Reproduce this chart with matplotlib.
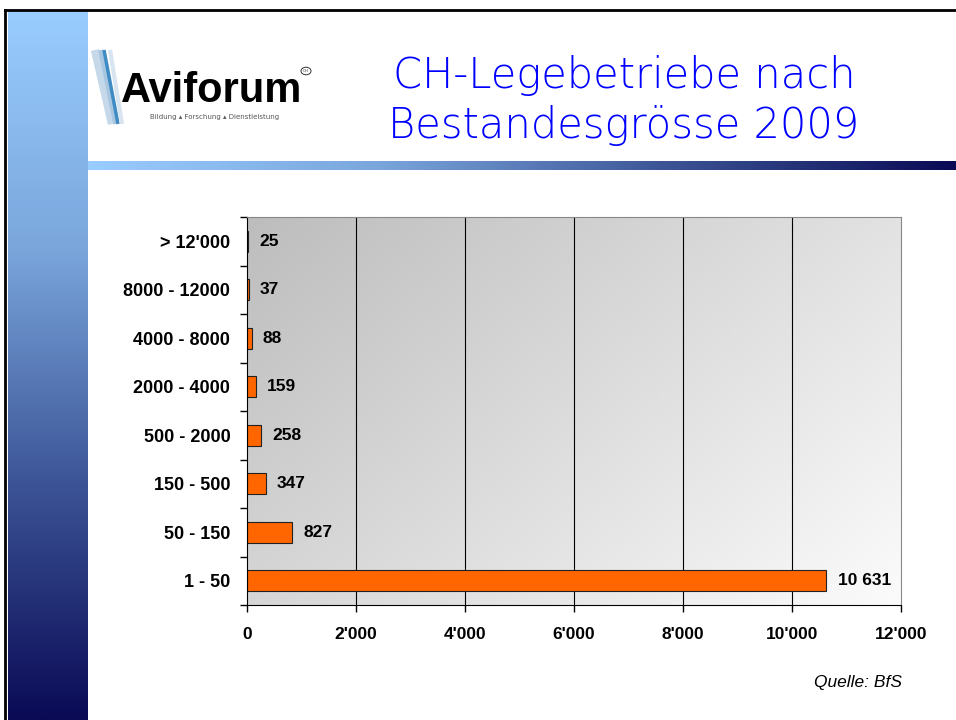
import numpy as np
import matplotlib.pyplot as plt
from matplotlib.colors import LinearSegmentedColormap
from matplotlib.patches import Circle

categories = ['1 - 50', '50 - 150', '150 - 500', '500 - 2000', '2000 - 4000',
              '4000 - 8000', '8000 - 12000', "> 12'000"]
betriebe = [10631, 827, 347, 258, 159, 88, 37, 25]
value_labels = ['10 631', '827', '347', '258', '159', '88', '37', '25']
xticks = [0, 2000, 4000, 6000, 8000, 10000, 12000]
xtick_labels = ['0', "2'000", "4'000", "6'000", "8'000", "10'000", "12'000"]

plt.rcParams['font.family'] = ['Liberation Sans', 'DejaVu Sans']

W, H = 956, 720
fig = plt.figure(figsize=(W / 100, H / 100), dpi=100)


def px(x0, y0, x1, y1):
    # pixel box (origin top left) -> figure rect
    return [x0 / W, 1 - y1 / H, (x1 - x0) / W, (y1 - y0) / H]


# slide decoration: side bar + line under the title
deco = LinearSegmentedColormap.from_list('deco', ['#99ccff', '#7aa6dc', '#3c5496', '#0a0a55'])
ax_side = fig.add_axes(px(8, 11, 88, 720))
ax_side.imshow(np.linspace(0, 1, 256).reshape(-1, 1), aspect='auto', cmap=deco)
ax_side.axis('off')

ax_line = fig.add_axes(px(88, 161, 956, 170))
ax_line.imshow(np.linspace(0, 1, 256).reshape(1, -1), aspect='auto', cmap=deco)
ax_line.axis('off')

fig.add_artist(plt.Line2D([5 / W, 1], [1 - 10 / H] * 2, color='black', lw=2))
fig.add_artist(plt.Line2D([5 / W] * 2, [0, 1 - 10 / H], color='black', lw=2))

# logo
for x0, x1, c, lw in [(95, 112, '#c5d9ea', 6), (101, 116, '#a9c6e0', 4),
                      (104, 118, '#3f8cc4', 2.5), (110, 122, '#d8e4ef', 3)]:
    fig.add_artist(plt.Line2D([x0 / W, x1 / W], [1 - 50 / H, 1 - 124 / H],
                              color=c, lw=lw, solid_capstyle='butt'))
fig.text(121 / W, 1 - 102 / H, 'Aviforum', fontsize=30, fontweight='heavy',
         color='black', ha='left', va='baseline')
fig.add_artist(Circle((306 / W, 1 - 71 / H), 5 / W, transform=fig.transFigure,
                      fill=False, ec='#333333', lw=0.7))
fig.text(306 / W, 1 - 71 / H, 'CH', fontsize=3, ha='center', va='center', color='#333333')
fig.text(150 / W, 1 - 117 / H, 'Bildung \u25b4 Forschung \u25b4 Dienstleistung',
         fontsize=5, color='#555555', ha='left', va='center',
         family=['DejaVu Sans'])

# title
fig.text(624 / W, 1 - 88 / H, 'CH-Legebetriebe nach', fontsize=30, color='#0000ff',
         ha='center', va='baseline', family=['DejaVu Sans'], fontweight='light')
fig.text(624 / W, 1 - 138 / H, 'Bestandesgr\u00f6sse 2009', fontsize=30, color='#0000ff',
         ha='center', va='baseline', family=['DejaVu Sans'], fontweight='light')

# chart
ax = fig.add_axes(px(247, 217, 901, 605))
y = np.arange(len(categories))

bg = LinearSegmentedColormap.from_list('bg', ['#bdbdbd', '#fbfbfb'])
gx, gy = np.meshgrid(np.linspace(0, 1, 200), np.linspace(0, 1, 200))
ax.imshow(0.6 * gx + 0.4 * gy, extent=[0, 12000, -0.5, 7.5], aspect='auto',
          cmap=bg, origin='upper', zorder=0)

ax.vlines(xticks[1:-1], -0.5, 7.5, color='black', lw=0.8, zorder=1)
ax.barh(y, betriebe, height=0.43, color='#ff6600', edgecolor='#222222', lw=0.8, zorder=2)
for yi, v, lab in zip(y, betriebe, value_labels):
    ax.annotate(lab, (v, yi), xytext=(8, 0), textcoords='offset points',
                va='center', ha='left', fontsize=12.5, fontweight='bold')

ax.set_xlim(0, 12000)
ax.set_ylim(-0.5, 7.5)
ax.set_xticks(xticks)
ax.set_xticklabels(xtick_labels, fontsize=12.5, fontweight='bold')
ax.set_yticks(np.arange(-0.5, 8, 1))
ax.set_yticklabels([])
ax.set_yticks(y, minor=True)
ax.set_yticklabels(categories, minor=True, fontsize=13, fontweight='bold')
ax.tick_params(axis='y', which='minor', length=0, pad=12)
ax.tick_params(axis='y', which='major', length=5, width=1)
ax.tick_params(axis='x', length=5, width=1, pad=11)
for s in ['left', 'bottom']:
    ax.spines[s].set_color('black')
for s in ['top', 'right']:
    ax.spines[s].set_color('#888888')

fig.text(902 / W, 1 - 683 / H, 'Quelle: BfS', fontsize=12.5, style='italic',
         ha='right', va='center')

fig.savefig('out.png', dpi=100)
